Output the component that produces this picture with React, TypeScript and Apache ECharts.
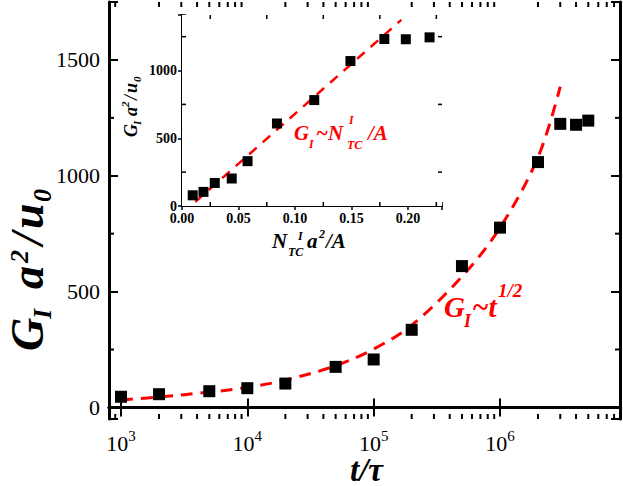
import React, { useEffect, useRef } from "react";
import * as echarts from "echarts";

// ---------- data ----------
const mainT = [1e3, 2e3, 5e3, 1e4, 2e4, 5e4, 1e5, 2e5, 5e5, 1e6, 2e6, 3e6, 4e6, 5e6];
const mainG = [46, 57, 70, 83, 103, 175, 207, 335, 610, 776, 1059, 1224, 1220, 1238];
const fitT = [1e3, 2e3, 5e3, 1e4, 2e4, 5e4, 1e5, 2e5, 5e5, 1e6, 2e6, 3e6];
const fitG = [32, 45, 66, 86, 118, 180, 252, 355, 565, 776, 1080, 1385];
const insetN = [0.0095, 0.019, 0.029, 0.044, 0.058, 0.084, 0.117, 0.149, 0.179, 0.198, 0.219];
const insetG = [79, 104, 170, 203, 331, 609, 782, 1070, 1233, 1231, 1245];
const insetFitN = [0.0117, 0.194];
const insetFitG = [30, 1374];
const mainXMinor = [900, 2e3, 3e3, 4e3, 5e3, 6e3, 7e3, 8e3, 9e3, 2e4, 3e4, 4e4, 5e4, 6e4, 7e4, 8e4, 9e4,
  2e5, 3e5, 4e5, 5e5, 6e5, 7e5, 8e5, 9e5, 2e6, 3e6, 4e6, 5e6, 6e6, 7e6, 8e6];
const mainYMinor = [250, 750, 1250];
const insetXMinor = [0.025, 0.075, 0.125, 0.175, 0.225];
const insetYMinor = [250, 750, 1250];

const X_MIN = Math.pow(10, 2.905);
const X_MAX = Math.pow(10, 6.95);
const Y_MIN = -50;
const Y_MAX = 1750;
const IX_MIN = 0;
const IX_MAX = 0.23;
const IY_MIN = 0;
const IY_MAX = 1410;

const FF = "Liberation Serif, serif";

function piece(x: number, base: number, text: string, size: number, color = "#000", bold = true, italic = true) {
  return {
    type: "text",
    x,
    y: base - 0.34 * size,
    silent: true,
    z: 100,
    style: {
      text,
      fill: color,
      fontFamily: FF,
      fontSize: size,
      fontWeight: bold ? "bold" : "normal",
      fontStyle: italic ? "italic" : "normal",
      textAlign: "left",
      textVerticalAlign: "middle",
      align: "left",
      verticalAlign: "middle",
    },
  };
}

function tickSeries(xi: number, yi: number, dir: "x" | "y", values: number[], lo: number, hi: number, len: number, width: number) {
  return {
    type: "custom",
    xAxisIndex: xi,
    yAxisIndex: yi,
    silent: true,
    z: 6,
    clip: false,
    data: values.map((v) => (dir === "x" ? [v, lo] : [lo, v])),
    encode: { x: 0, y: 1 },
    renderItem: (_p: any, api: any) => {
      const style = { stroke: "#000", lineWidth: width };
      if (dir === "x") {
        const v = api.value(0);
        const a = api.coord([v, lo]);
        const b = api.coord([v, hi]);
        return {
          type: "group",
          children: [
            { type: "line", shape: { x1: a[0], y1: a[1], x2: a[0], y2: a[1] - len }, style },
            { type: "line", shape: { x1: b[0], y1: b[1], x2: b[0], y2: b[1] + len }, style },
          ],
        };
      }
      const v = api.value(1);
      const a = api.coord([lo, v]);
      const b = api.coord([hi, v]);
      return {
        type: "group",
        children: [
          { type: "line", shape: { x1: a[0], y1: a[1], x2: a[0] + len, y2: a[1] }, style },
          { type: "line", shape: { x1: b[0], y1: b[1], x2: b[0] - len, y2: b[1] }, style },
        ],
      };
    },
  };
}

const isPow10 = (v: number) => Math.abs(Math.log10(v) - Math.round(Math.log10(v))) < 1e-6;

export default function App() {
  const ref = useRef<HTMLDivElement>(null);
  useEffect(() => {
    const chart = echarts.init(ref.current!, null, { renderer: "svg" });
    const mainAxisLine = { show: true, lineStyle: { color: "#000", width: 3 } };
    const insetAxisLine = { show: true, lineStyle: { color: "#000", width: 2 } };
    const option: any = {
      animation: false,
      backgroundColor: "#fff",
      textStyle: { fontFamily: FF },
      grid: [
        { left: 109, right: 3, top: 2, bottom: 67, show: false },
        { left: 182, right: 181, top: 15, bottom: 280, show: true, backgroundColor: "#fff", borderWidth: 0, z: 4 },
      ],
      xAxis: [
        {
          type: "log", gridIndex: 0, min: X_MIN, max: X_MAX, position: "bottom",
          axisLine: mainAxisLine,
          axisTick: { show: true, inside: true, length: 9, lineStyle: { color: "#000", width: 2 } },
          splitLine: { show: false },
          axisLabel: {
            show: true, margin: 9, color: "#000", fontFamily: FF,
            formatter: (v: number) => (isPow10(v) ? `{n|10}{s|${Math.round(Math.log10(v))}}` : ""),
            rich: {
              n: { fontSize: 22, fontFamily: FF, color: "#000" },
              s: { fontSize: 15, fontFamily: FF, color: "#000", padding: [0, 0, 16, 0] },
            },
          },
        },
        {
          type: "log", gridIndex: 0, min: X_MIN, max: X_MAX, position: "top",
          axisLine: mainAxisLine,
          axisTick: { show: true, inside: true, length: 9, lineStyle: { color: "#000", width: 2 } },
          splitLine: { show: false }, axisLabel: { show: false },
        },
        {
          type: "value", gridIndex: 1, min: IX_MIN, max: IX_MAX, interval: 0.05, position: "bottom",
          axisLine: insetAxisLine,
          axisTick: { show: true, inside: true, length: 4, lineStyle: { color: "#000", width: 1.5 } },
          splitLine: { show: false },
          axisLabel: {
            margin: 5, color: "#000", fontSize: 14, fontWeight: "bold", fontFamily: FF,
            formatter: (v: number) => (Math.abs(v / 0.05 - Math.round(v / 0.05)) < 1e-6 ? v.toFixed(2) : ""),
          },
        },
        {
          type: "value", gridIndex: 1, min: IX_MIN, max: IX_MAX, interval: 0.05, position: "top",
          axisLine: insetAxisLine,
          axisTick: { show: true, inside: true, length: 4, lineStyle: { color: "#000", width: 1.5 } },
          splitLine: { show: false }, axisLabel: { show: false },
        },
      ],
      yAxis: [
        {
          type: "value", gridIndex: 0, min: Y_MIN, max: Y_MAX, splitNumber: 4, position: "left",
          axisLine: mainAxisLine,
          axisTick: { show: true, inside: true, length: 9, lineStyle: { color: "#000", width: 2 } },
          splitLine: { show: false },
          axisLabel: {
            margin: 9, color: "#000", fontSize: 22, fontFamily: FF,
            formatter: (v: number) => (v % 500 === 0 ? String(v) : ""),
          },
        },
        {
          type: "value", gridIndex: 0, min: Y_MIN, max: Y_MAX, splitNumber: 4, position: "right",
          axisLine: mainAxisLine,
          axisTick: { show: true, inside: true, length: 9, lineStyle: { color: "#000", width: 2 } },
          splitLine: { show: false }, axisLabel: { show: false },
        },
        {
          type: "value", gridIndex: 1, min: IY_MIN, max: IY_MAX, interval: 500, position: "left",
          axisLine: insetAxisLine,
          axisTick: { show: true, inside: true, length: 4, lineStyle: { color: "#000", width: 1.5 } },
          splitLine: { show: false },
          axisLabel: {
            margin: 5, color: "#000", fontSize: 14, fontWeight: "bold", fontFamily: FF,
            formatter: (v: number) => (v % 500 === 0 ? String(v) : ""),
          },
        },
        {
          type: "value", gridIndex: 1, min: IY_MIN, max: IY_MAX, interval: 500, position: "right",
          axisLine: insetAxisLine,
          axisTick: { show: true, inside: true, length: 4, lineStyle: { color: "#000", width: 1.5 } },
          splitLine: { show: false }, axisLabel: { show: false },
        },
      ],
      series: [
        {
          type: "line", xAxisIndex: 0, yAxisIndex: 0, z: 2,
          data: fitT.map((t, i) => [t, fitG[i]]),
          smooth: 0.35, showSymbol: false, symbol: "none",
          lineStyle: { color: "#ff0000", width: 3, type: [12, 8] },
        },
        {
          type: "scatter", xAxisIndex: 0, yAxisIndex: 0, z: 3,
          data: mainT.map((t, i) => [t, mainG[i]]),
          symbol: "rect", symbolSize: 12, itemStyle: { color: "#000", opacity: 1 },
        },
        {
          type: "line", xAxisIndex: 2, yAxisIndex: 2, z: 7,
          data: insetFitN.map((n, i) => [n, insetFitG[i]]),
          showSymbol: false, symbol: "none",
          lineStyle: { color: "#ff0000", width: 2.5, type: [10, 8] },
        },
        {
          type: "scatter", xAxisIndex: 2, yAxisIndex: 2, z: 8,
          data: insetN.map((n, i) => [n, insetG[i]]),
          symbol: "rect", symbolSize: 10, itemStyle: { color: "#000", opacity: 1 },
        },
        tickSeries(0, 0, "x", mainXMinor, Y_MIN, Y_MAX, 5, 2),
        tickSeries(0, 0, "y", mainYMinor, X_MIN, X_MAX, 5, 2),
        tickSeries(2, 2, "x", insetXMinor, IY_MIN, IY_MAX, 4, 1.5),
        tickSeries(2, 2, "y", insetYMinor, IX_MIN, IX_MAX, 4, 1.5),
      ],
      graphic: [
        // main y title
        {
          type: "group", x: 43, y: 351, rotation: Math.PI / 2, z: 100,
          children: [
            piece(0, 0, "G", 46), piece(32, 8, "I", 26), piece(62, 0, "a", 46),
            piece(88, -15, "2", 26), piece(106, 0, "/", 46), piece(122, 0, "u", 46), piece(149, 8, "0", 26),
          ],
        },
        // main x title
        { ...piece(350, 481, "t/\u03c4", 33) },
        // inset y title
        {
          type: "group", x: 137, y: 137, rotation: Math.PI / 2, z: 100,
          children: [
            piece(0, 0, "G", 18), piece(12, 4, "I", 11), piece(21, 0, "a", 18),
            piece(30, -8, "2", 11), piece(37, 0, "/", 18), piece(44, 0, "u", 18), piece(55, 4, "0", 11),
          ],
        },
        // inset x title
        piece(272, 248, "N", 21), piece(288, 256, "TC", 12), piece(298, 240, "I", 12),
        piece(307, 248, "a", 21), piece(319, 238, "2", 12), piece(326, 248, "/A", 21),
        // inset annotation
        piece(294, 140.5, "G", 21, "#ff0000"), piece(309, 148, "I", 12, "#ff0000"),
        piece(316, 140.5, "~N", 21, "#ff0000"), piece(349, 124, "I", 12, "#ff0000"),
        piece(347, 149, "TC", 12, "#ff0000"), piece(368, 140.5, "/A", 21, "#ff0000"),
        // main annotation
        piece(444, 317, "G", 29, "#ff0000"), piece(464, 327, "I", 18, "#ff0000"),
        piece(472, 317, "~t", 29, "#ff0000"), piece(498, 297, "1/2", 19, "#ff0000"),
      ],
    };
    chart.setOption(option);
    return () => chart.dispose();
  }, []);
  return <div ref={ref} style={{ position: "fixed", left: 0, top: 0, width: 623, height: 486 }} />;
}
